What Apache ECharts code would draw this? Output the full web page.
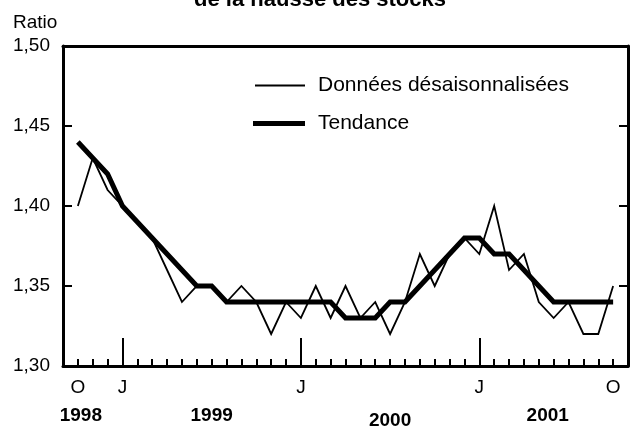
<!DOCTYPE html>
<html><head><meta charset="utf-8">
<script src="https://cdn.jsdelivr.net/npm/echarts@6/dist/echarts.min.js"></script>
<style>html,body{margin:0;padding:0;background:#fff}#c{width:640px;height:434px}</style>
</head><body><div id="c"></div>
<script>
// Months Oct 1998 .. Oct 2001
const monthLetters = ['O','N','D','J','F','M','A','M','J','J','A','S','O','N','D','J','F','M','A','M','J','J','A','S','O','N','D','J','F','M','A','M','J','J','A','S','O'];
const seasonallyAdjusted = [1.40,1.43,1.41,1.40,1.39,1.38,1.36,1.34,1.35,1.35,1.34,1.35,1.34,1.32,1.34,1.33,1.35,1.33,1.35,1.33,1.34,1.32,1.34,1.37,1.35,1.37,1.38,1.37,1.40,1.36,1.37,1.34,1.33,1.34,1.32,1.32,1.35];
const trend = [1.44,1.43,1.42,1.40,1.39,1.38,1.37,1.36,1.35,1.35,1.34,1.34,1.34,1.34,1.34,1.34,1.34,1.34,1.33,1.33,1.33,1.34,1.34,1.35,1.36,1.37,1.38,1.38,1.37,1.37,1.36,1.35,1.34,1.34,1.34,1.34,1.34];
const labelledMonths = [0,3,15,27,36];
const januaryMonths = [3,15,27];
const years = ['1998','1999','2000','2001'];
const seriesNames = ['Données désaisonnalisées','Tendance'];
const titleText = 'de la hausse des stocks';
const yName = 'Ratio';

// layout (not data)
const yearAnchors = [0.2, 9.0, 21.0, 31.6];
const FONT = 'Liberation Sans, Arial, sans-serif';

const allMonths = monthLetters.map((_, i) => i);
const chart = echarts.init(document.getElementById('c'), null, {renderer: 'canvas'});
const axisCommon = {type: 'value', min: -1, max: 37, splitLine: {show: false}};
chart.setOption({
  animation: false,
  backgroundColor: '#fff',
  textStyle: {fontFamily: FONT, color: '#000'},
  title: [
    {text: titleText, left: 'center', top: -16, textStyle: {fontFamily: FONT, fontSize: 22, fontWeight: 'bold', color: '#000'}},
    {text: yName, left: 8, top: 8, textStyle: {fontFamily: FONT, fontSize: 19, fontWeight: 'normal', color: '#000'}}
  ],
  legend: [
    {data: [seriesNames[0]], left: 255, top: 75, icon: 'rect', itemWidth: 50, itemHeight: 2, selectedMode: false, padding: 0,
     itemStyle: {color: '#000'}, textStyle: {fontFamily: FONT, fontSize: 21, color: '#000', padding: [0,0,0,8]}},
    {data: [seriesNames[1]], left: 253, top: 113, icon: 'rect', itemWidth: 52, itemHeight: 5, selectedMode: false, padding: 0,
     itemStyle: {color: '#000'}, textStyle: {fontFamily: FONT, fontSize: 21, color: '#000', padding: [0,0,0,8]}}
  ],
  grid: {left: 63, right: 12, top: 46, bottom: 68, containLabel: false},
  xAxis: [
    Object.assign({}, axisCommon, {position: 'bottom',
      axisLine: {show: true, onZero: false, lineStyle: {color: '#000', width: 3}},
      axisTick: {show: true, inside: true, length: 7, customValues: allMonths, lineStyle: {color: '#000', width: 2}},
      axisLabel: {show: true, customValues: labelledMonths, formatter: v => monthLetters[v], fontFamily: FONT, fontSize: 19, color: '#000', margin: 12}}),
    Object.assign({}, axisCommon, {position: 'bottom',
      axisLine: {show: false, onZero: false},
      axisTick: {show: true, inside: true, length: 28, customValues: januaryMonths, lineStyle: {color: '#000', width: 2}},
      axisLabel: {show: false}}),
    Object.assign({}, axisCommon, {position: 'bottom',
      axisLine: {show: false, onZero: false}, axisTick: {show: false},
      axisLabel: {show: true, customValues: yearAnchors, formatter: v => { const k = yearAnchors.indexOf(v); const t = years[k]; return k === 2 ? '{lo|' + t + '}' : '{n|' + t + '}'; },
        fontFamily: FONT, fontSize: 19, fontWeight: 'bold', color: '#000', margin: 40,
        rich: {n: {fontFamily: FONT, fontSize: 19, fontWeight: 'bold', color: '#000'}, lo: {fontFamily: FONT, fontSize: 19, fontWeight: 'bold', color: '#000', padding: [5,0,0,0]}}}}),
    Object.assign({}, axisCommon, {position: 'top',
      axisLine: {show: true, onZero: false, lineStyle: {color: '#000', width: 3}}, axisTick: {show: false}, axisLabel: {show: false}})
  ],
  yAxis: [
    {type: 'value', position: 'left', min: 1.30, max: 1.50, interval: 0.05, splitLine: {show: false},
      axisLine: {show: true, onZero: false, lineStyle: {color: '#000', width: 3}},
      axisTick: {show: true, inside: true, length: 9, lineStyle: {color: '#000', width: 2}},
      axisLabel: {show: true, formatter: v => v.toFixed(2).replace('.', ','), fontFamily: FONT, fontSize: 19, color: '#000', margin: 13}},
    {type: 'value', position: 'right', min: 1.30, max: 1.50, interval: 0.05, splitLine: {show: false},
      axisLine: {show: true, onZero: false, lineStyle: {color: '#000', width: 3}},
      axisTick: {show: true, inside: true, length: 9, lineStyle: {color: '#000', width: 2}},
      axisLabel: {show: false}}
  ],
  series: [
    {name: seriesNames[1], type: 'line', xAxisIndex: 0, yAxisIndex: 0, data: trend.map((v, i) => [i, v]),
      showSymbol: false, symbol: 'none', lineStyle: {color: '#000', width: 5, join: 'miter'}, itemStyle: {color: '#000'}, z: 2},
    {name: seriesNames[0], type: 'line', xAxisIndex: 0, yAxisIndex: 0, data: seasonallyAdjusted.map((v, i) => [i, v]),
      showSymbol: false, symbol: 'none', lineStyle: {color: '#000', width: 1.8, join: 'miter'}, itemStyle: {color: '#000'}, z: 3}
  ]
});
</script></body></html>
